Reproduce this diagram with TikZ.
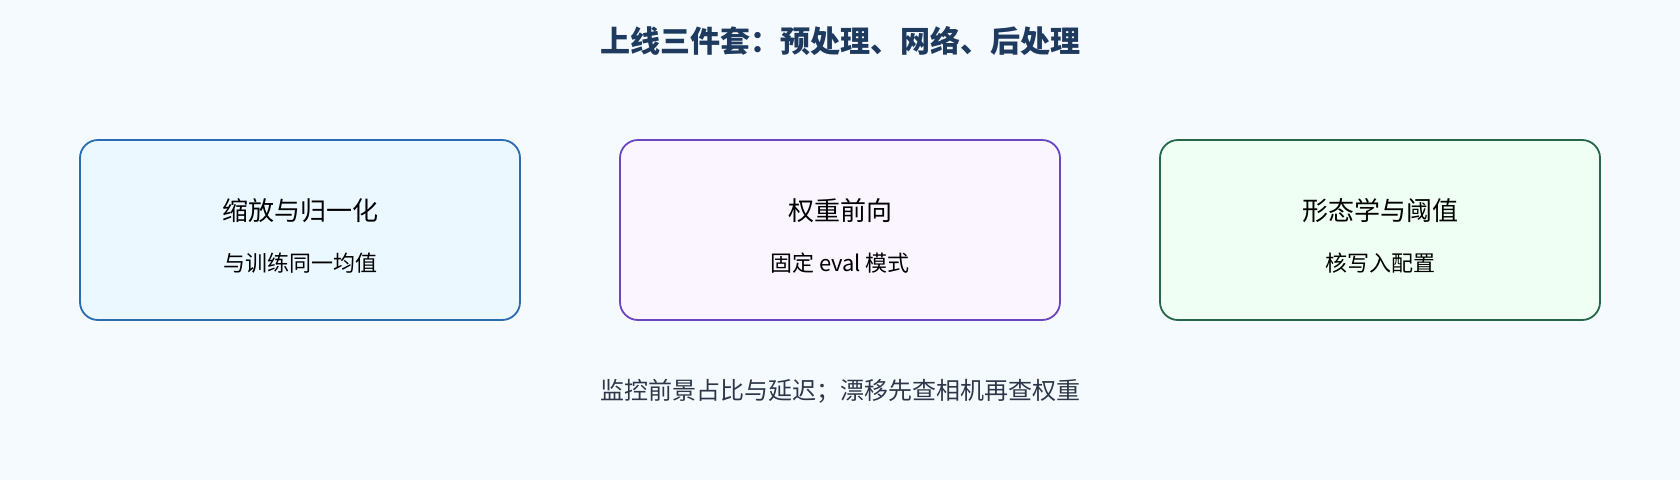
\documentclass[tikz,border=0pt]{standalone}
\usepackage{fontspec}
\setmainfont{Noto Sans CJK SC}
\usepackage{tikz}
\definecolor{bgpage}{HTML}{F5FAFF}
\definecolor{titlecol}{HTML}{1E3A5F}
\definecolor{footcol}{HTML}{2D3748}
\definecolor{preline}{HTML}{2B6CB0}
\definecolor{prefill}{HTML}{EBF8FF}
\definecolor{netline}{HTML}{6B46C1}
\definecolor{netfill}{HTML}{FAF5FF}
\definecolor{postline}{HTML}{276749}
\definecolor{postfill}{HTML}{F0FFF4}

\begin{document}
\begin{tikzpicture}
		[x=1pt,y=-1pt]
			\tikzstyle{stage}=[rectangle, draw, line width=1.8pt, rounded corners=18pt,
		minimum width=440pt, minimum height=180pt, inner sep=0pt]
			\tikzstyle{head}=[inner sep=0pt, font=\fontsize{26}{31}\selectfont]
			\tikzstyle{sub}=[inner sep=0pt, font=\fontsize{22}{27}\selectfont]
		\fill[bgpage] (0,0) rectangle (1680,480);
		\useasboundingbox (0,0) rectangle (1680,480);
		%-----title
		 \node[inner sep=0pt, text=titlecol, font=\fontsize{30}{35}\selectfont\bfseries]  (T) at (840,41) {上线三件套：预处理、网络、后处理};
		%-----stages
		 \node[stage, draw=preline, fill=prefill]  (PRE) at (300,230) {};
		 \node[stage, draw=netline, fill=netfill]  (NET) at (840,230) {};
		 \node[stage, draw=postline, fill=postfill]  (POST) at (1380,230) {};
		 \node[head]  (PREh) at (300,211) {缩放与归一化};
		 \node[sub]  (PREs) at (300,263) {与训练同一均值};
		 \node[head]  (NETh) at (840,211) {权重前向};
		 \node[sub]  (NETs) at (840,263) {固定 eval 模式};
		 \node[head]  (POSTh) at (1380,211) {形态学与阈值};
		 \node[sub]  (POSTs) at (1380,263) {核写入配置};
		%-----note
		 \node[inner sep=0pt, text=footcol, font=\fontsize{24}{29}\selectfont]  (N) at (840,391) {监控前景占比与延迟；漂移先查相机再查权重};
		\end{tikzpicture}
\end{document}
